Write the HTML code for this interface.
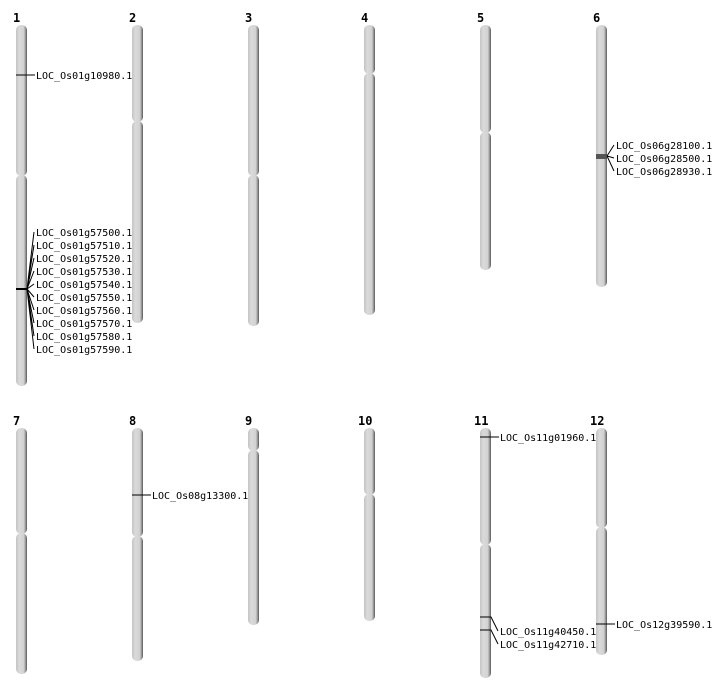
<!DOCTYPE html>
<html><head><meta charset="utf-8"><style>
html,body{margin:0;padding:0;background:#fff;}
svg{display:block;}
text{font-family:"DejaVu Sans Mono","Liberation Mono",monospace;font-size:10px;fill:#000;}
.n{font-family:"DejaVu Sans Mono","Liberation Mono",monospace;font-weight:bold;font-size:12px;}
.a{fill:url(#g);}
.l{stroke:#000;stroke-width:1;fill:none;}
</style></head><body>
<svg width="712" height="700" viewBox="0 0 712 700" xmlns="http://www.w3.org/2000/svg">
<defs>
<linearGradient id="g" x1="0" x2="1" y1="0" y2="0">
<stop offset="0" stop-color="#c4c4c4"/>
<stop offset="0.3" stop-color="#dadada"/>
<stop offset="0.7" stop-color="#d2d2d2"/>
<stop offset="0.85" stop-color="#a0a0a0"/>
<stop offset="1" stop-color="#555"/>
</linearGradient>
</defs>
<!-- numbers -->
<text class="n" x="13" y="22">1</text>
<text class="n" x="129" y="22">2</text>
<text class="n" x="245" y="22">3</text>
<text class="n" x="361" y="22">4</text>
<text class="n" x="477" y="22">5</text>
<text class="n" x="593" y="22">6</text>
<text class="n" x="13" y="425">7</text>
<text class="n" x="129" y="425">8</text>
<text class="n" x="245" y="425">9</text>
<text class="n" x="358" y="425">10</text>
<text class="n" x="474" y="425">11</text>
<text class="n" x="590" y="425">12</text>
<!-- chromosomes row1 -->
<rect class="a" x="16" y="25" width="11" height="151" rx="5"/><rect class="a" x="16" y="175" width="11" height="211" rx="5"/>
<rect class="a" x="132" y="25" width="11" height="97" rx="5"/><rect class="a" x="132" y="121" width="11" height="202" rx="5"/>
<rect class="a" x="248" y="25" width="11" height="151" rx="5"/><rect class="a" x="248" y="175" width="11" height="151" rx="5"/>
<rect class="a" x="364" y="25" width="11" height="49" rx="5"/><rect class="a" x="364" y="73" width="11" height="242" rx="5"/>
<rect class="a" x="480" y="25" width="11" height="108" rx="5"/><rect class="a" x="480" y="132" width="11" height="138" rx="5"/>
<rect class="a" x="596" y="25" width="11" height="262" rx="5"/>
<!-- row2 -->
<rect class="a" x="16" y="428" width="11" height="106" rx="5"/><rect class="a" x="16" y="533" width="11" height="141" rx="5"/>
<rect class="a" x="132" y="428" width="11" height="109" rx="5"/><rect class="a" x="132" y="536" width="11" height="125" rx="5"/>
<rect class="a" x="248" y="428" width="11" height="23" rx="5"/><rect class="a" x="248" y="450" width="11" height="175" rx="5"/>
<rect class="a" x="364" y="428" width="11" height="67" rx="5"/><rect class="a" x="364" y="494" width="11" height="127" rx="5"/>
<rect class="a" x="480" y="428" width="11" height="117" rx="5"/><rect class="a" x="480" y="544" width="11" height="134" rx="5"/>
<rect class="a" x="596" y="428" width="11" height="100" rx="5"/><rect class="a" x="596" y="527" width="11" height="128" rx="5"/>
<!-- chr1 markers -->
<line class="l" x1="16" y1="75" x2="35" y2="75" stroke="#333"/>
<text x="36" y="79">LOC_Os01g10980.1</text>
<line x1="16" y1="289" x2="27" y2="289" stroke="#000" stroke-width="2"/>
<g class="l">
<path d="M27 289L34 232M27 289L34 245M27 289L34 258M27 289L34 271M27 289L34 284M27 289L34 297M27 289L34 310M27 289L34 323M27 289L34 336M27 289L34 349"/>
</g>
<text x="36" y="236">LOC_Os01g57500.1</text>
<text x="36" y="249">LOC_Os01g57510.1</text>
<text x="36" y="262">LOC_Os01g57520.1</text>
<text x="36" y="275">LOC_Os01g57530.1</text>
<text x="36" y="288">LOC_Os01g57540.1</text>
<text x="36" y="301">LOC_Os01g57550.1</text>
<text x="36" y="314">LOC_Os01g57560.1</text>
<text x="36" y="327">LOC_Os01g57570.1</text>
<text x="36" y="340">LOC_Os01g57580.1</text>
<text x="36" y="353">LOC_Os01g57590.1</text>
<!-- chr6 -->
<rect x="596" y="154" width="11" height="5" fill="#555"/>
<path class="l" d="M607 156L614 145M607 156L614 158M607 156L614 171"/>
<text x="616" y="149">LOC_Os06g28100.1</text>
<text x="616" y="162">LOC_Os06g28500.1</text>
<text x="616" y="175">LOC_Os06g28930.1</text>
<!-- chr8 -->
<line class="l" x1="132" y1="495" x2="151" y2="495" stroke="#333"/>
<text x="152" y="499">LOC_Os08g13300.1</text>
<!-- chr11 -->
<line class="l" x1="480" y1="437" x2="499" y2="437" stroke="#333"/>
<text x="500" y="441">LOC_Os11g01960.1</text>
<path class="l" d="M480 617L491 617L498 631M480 630L491 630L498 644"/>
<text x="500" y="635">LOC_Os11g40450.1</text>
<text x="500" y="648">LOC_Os11g42710.1</text>
<!-- chr12 -->
<line class="l" x1="596" y1="624" x2="615" y2="624" stroke="#333"/>
<text x="616" y="628">LOC_Os12g39590.1</text>
</svg>
</body></html>
